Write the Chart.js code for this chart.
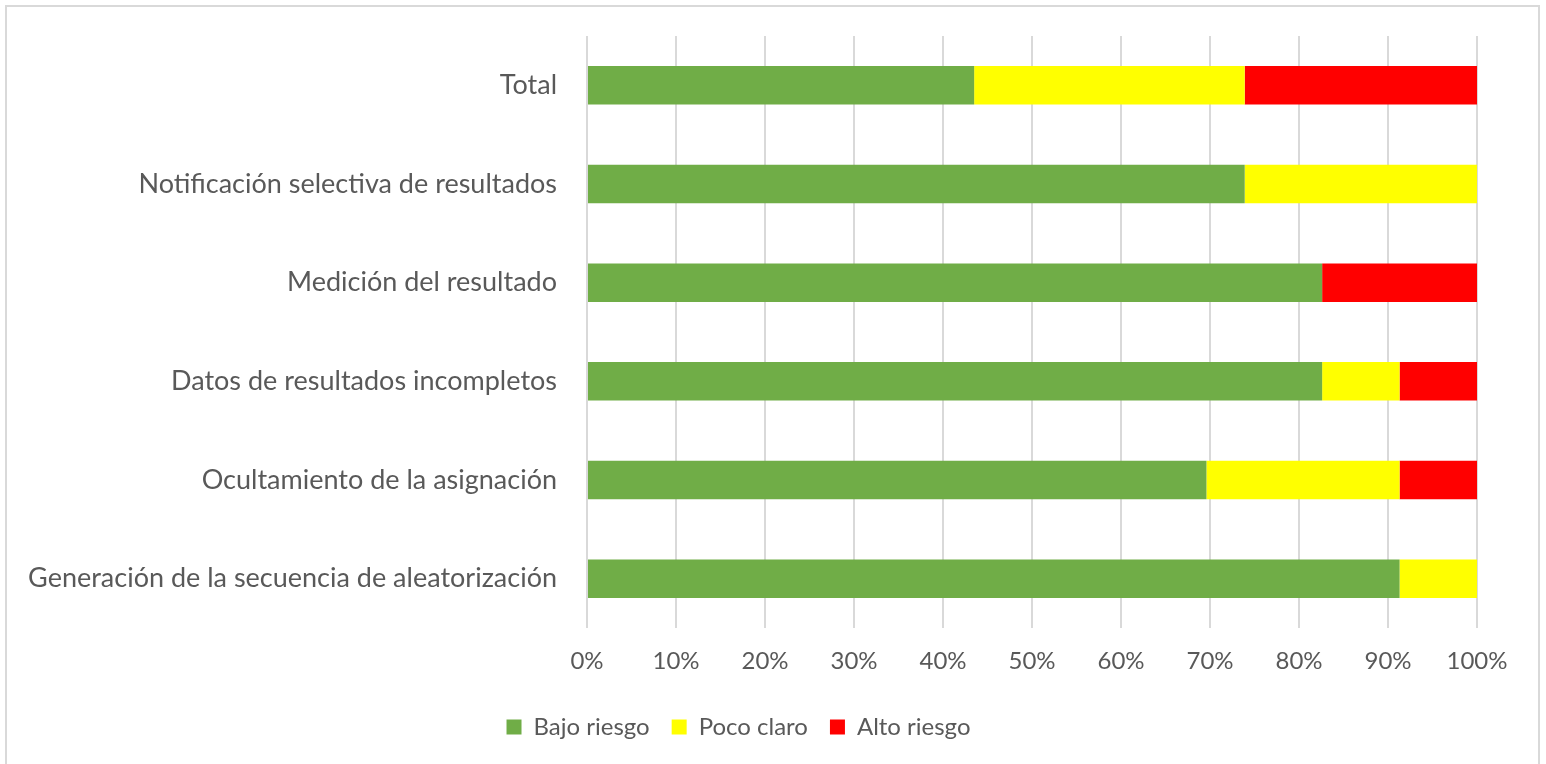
<!DOCTYPE html>
<html>
<head>
<meta charset="utf-8">
<script src="https://cdn.jsdelivr.net/npm/chart.js@4/dist/chart.umd.min.js"></script>
<style>
  html, body { margin: 0; padding: 0; background: #fff; overflow: hidden; }
  #frame { position: absolute; left: 5px; top: 5px; width: 1535px; height: 780px; border: 2px solid #d9d9d9; box-sizing: border-box; }
  #wrap { position: absolute; left: 0; top: 0; width: 1546px; height: 764px; }
</style>
</head>
<body>
<div id="frame"></div>
<div id="wrap"><canvas id="chart"></canvas></div>
<script>
const categories = [
  "Total",
  "Notificación selectiva de resultados",
  "Medición del resultado",
  "Datos de resultados incompletos",
  "Ocultamiento de la asignación",
  "Generación de la secuencia de aleatorización"
];
const bajoRiesgo = [43.5, 73.9, 82.6, 82.6, 69.6, 91.3];
const pocoClaro = [30.4, 26.1, 0, 8.7, 21.7, 8.7];
const altoRiesgo = [26.1, 0, 17.4, 8.7, 8.7, 0];
const xTicks = [0, 10, 20, 30, 40, 50, 60, 70, 80, 90, 100];

const FONT = "Lato, 'Open Sans', sans-serif";
const TEXT = "#595959";

new Chart(document.getElementById("chart"), {
  type: "bar",
  data: {
    labels: categories,
    datasets: [
      { label: "Bajo riesgo", data: bajoRiesgo, backgroundColor: "#70ad47" },
      { label: "Poco claro", data: pocoClaro, backgroundColor: "#ffff00" },
      { label: "Alto riesgo", data: altoRiesgo, backgroundColor: "#ff0000" },
    ],
  },
  options: {
    indexAxis: "y",
    responsive: true,
    maintainAspectRatio: false,
    animation: false,
    datasets: { bar: { categoryPercentage: 1, barPercentage: 0.39 } },
    layout: { padding: { top: 36, right: 69, bottom: 15, left: 0 } },
    plugins: {
      tooltip: { enabled: false },
      legend: {
        display: true,
        position: "bottom",
        labels: {
          font: { family: FONT, size: 24 },
          color: TEXT,
          boxWidth: 15,
          boxHeight: 15,
          padding: 22,
        },
      },
    },
    scales: {
      x: {
        stacked: true,
        min: 0,
        max: 100,
        afterBuildTicks: (scale) => { scale.ticks = xTicks.map((v) => ({ value: v })); },
        afterFit: (scale) => { scale.height = 65; },
        ticks: {
          callback: (v) => v + "%",
          font: { family: FONT, size: 24 },
          color: TEXT,
          padding: 19,
          maxRotation: 0,
        },
        grid: { color: "#d9d9d9", lineWidth: 2, drawTicks: false },
        border: { display: false },
      },
      y: {
        stacked: true,
        afterFit: (scale) => {
          scale.width = 587;
          scale.paddingTop = 0;
          scale.paddingBottom = 0;
        },
        ticks: {
          font: { family: FONT, size: 27 },
          color: TEXT,
          padding: 30,
        },
        grid: { display: false, drawTicks: false },
        border: { display: false },
      },
    },
  },
});
</script>
</body>
</html>
